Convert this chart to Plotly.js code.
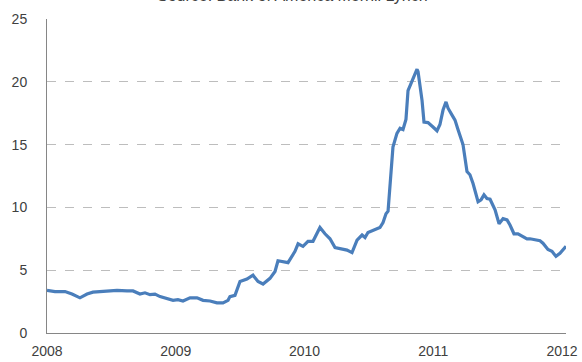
<!DOCTYPE html>
<html>
<head>
<meta charset="utf-8">
<script src="https://cdn.plot.ly/plotly-3.0.1.min.js"></script>
<style>html,body{margin:0;padding:0;background:#fff;}#chart{width:582px;height:362px;}</style>
</head>
<body>
<div id="chart"></div>
<script>
// decimal year positions of the observations
var years = [2008.000,2008.062,2008.140,2008.194,2008.256,2008.311,2008.357,2008.412,2008.466,2008.544,
2008.621,2008.668,2008.722,2008.761,2008.800,2008.839,2008.878,2008.924,2008.979,2009.017,
2009.056,2009.111,2009.165,2009.212,2009.266,2009.320,2009.367,2009.406,2009.421,2009.460,
2009.499,2009.553,2009.600,2009.639,2009.678,2009.732,2009.771,2009.794,2009.833,2009.872,
2009.926,2009.950,2009.988,2010.027,2010.066,2010.120,2010.159,2010.198,2010.237,2010.276,
2010.330,2010.369,2010.408,2010.447,2010.470,2010.493,2010.548,2010.586,2010.610,2010.633,
2010.649,2010.664,2010.687,2010.718,2010.742,2010.765,2010.788,2010.804,2010.835,2010.874,
2010.882,2010.913,2010.928,2010.959,2010.998,2011.029,2011.052,2011.076,2011.099,2011.115,
2011.146,2011.169,2011.192,2011.231,2011.262,2011.285,2011.309,2011.348,2011.371,2011.394,
2011.417,2011.441,2011.480,2011.511,2011.542,2011.573,2011.596,2011.627,2011.658,2011.689,
2011.728,2011.751,2011.790,2011.829,2011.852,2011.891,2011.922,2011.953,2011.984,2012.008,
2012.031];
var values = [3.4,3.3,3.3,3.1,2.8,3.1,3.25,3.3,3.37,3.4,
3.35,3.35,3.1,3.2,3.05,3.1,2.9,2.75,2.6,2.65,
2.55,2.8,2.8,2.6,2.55,2.4,2.4,2.6,2.9,3.0,
4.1,4.3,4.6,4.1,3.9,4.35,4.9,5.75,5.7,5.6,
6.5,7.1,6.9,7.3,7.3,8.4,7.9,7.5,6.8,6.7,
6.6,6.4,7.4,7.8,7.6,8.0,8.2,8.4,8.8,9.5,
9.7,11.5,14.8,15.9,16.3,16.2,17.0,19.3,20.0,21.0,
20.8,18.5,16.8,16.75,16.4,16.1,16.6,17.75,18.4,17.9,
17.35,16.95,16.2,15.0,12.85,12.6,11.9,10.45,10.6,11.0,
10.7,10.65,9.8,8.7,9.1,9.0,8.6,7.9,7.9,7.7,
7.5,7.5,7.45,7.35,7.15,6.65,6.5,6.1,6.35,6.6,
6.9];
var xTicks = [2008, 2009, 2010, 2011, 2012];
var xTickLabels = ["2008", "2009", "2010", "2011", "2012"];
var yTicks = [0, 5, 10, 15, 20, 25];
var titleText = "Source: Bank of America Merrill Lynch";

var trace = {
  x: years, y: values, type: 'scatter', mode: 'lines',
  line: {color: '#4a7ebb', width: 3.2, shape: 'linear'},
  hoverinfo: 'none'
};
var layout = {
  width: 582, height: 362,
  margin: {l: 47, r: 16, t: 19, b: 29, pad: 0},
  paper_bgcolor: '#fff', plot_bgcolor: '#fff',
  showlegend: false,
  font: {family: 'Liberation Sans, Arial, sans-serif', size: 14, color: '#404040'},
  annotations: [{
    text: titleText, xref: 'paper', yref: 'paper', x: 0.473, y: 1,
    xanchor: 'center', yanchor: 'bottom', yshift: 13, showarrow: false,
    font: {size: 16, color: '#404040'}
  }],
  xaxis: {
    range: [2008, 2012.031], tickvals: xTicks, ticktext: xTickLabels,
    showgrid: false, zeroline: false, showline: true, linecolor: '#868686', linewidth: 1,
    ticks: '', ticklabelstandoff: 5, tickfont: {size: 14, color: '#404040'}
  },
  yaxis: {
    range: [0, 25], tickvals: yTicks,
    showgrid: true, gridcolor: '#bdbdbd', griddash: 'dash', gridwidth: 1,
    zeroline: false, showline: true, linecolor: '#868686', linewidth: 1,
    ticks: '', ticklabelstandoff: 16, tickfont: {size: 14, color: '#404040'}
  }
};
Plotly.newPlot('chart', [trace], layout, {staticPlot: true, displayModeBar: false});
</script>
</body>
</html>
